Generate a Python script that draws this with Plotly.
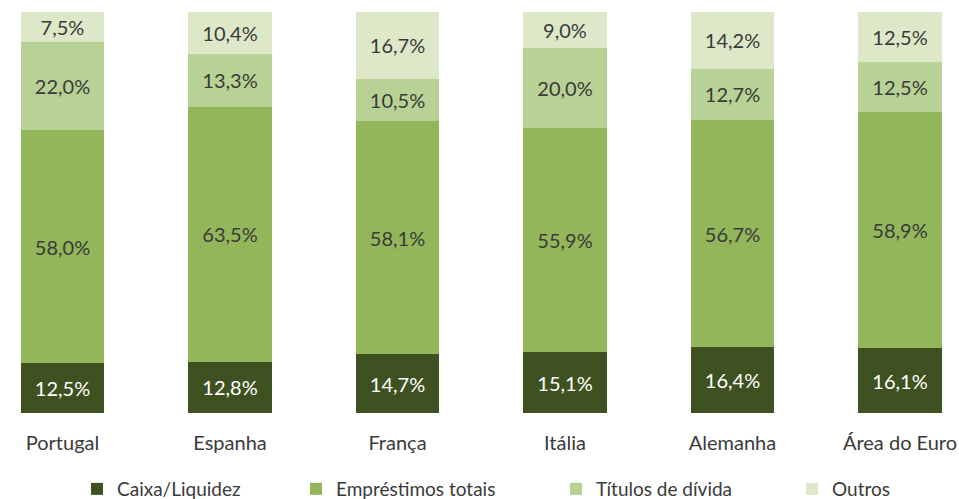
import plotly.graph_objects as go

categories = ["Portugal", "Espanha", "França", "Itália", "Alemanha", "Área do Euro"]
caixa = [12.5, 12.8, 14.7, 15.1, 16.4, 16.1]
emprestimos = [58.0, 63.5, 58.1, 55.9, 56.7, 58.9]
titulos = [22.0, 13.3, 10.5, 20.0, 12.7, 12.5]
outros = [7.5, 10.4, 16.7, 9.0, 14.2, 12.5]

series = [
    ("Caixa/Liquidez", caixa, "#3F5121", "#FFFFFF"),
    ("Empréstimos totais", emprestimos, "#93B65A", "#3A3A3A"),
    ("Títulos de dívida", titulos, "#B8D194", "#3A3A3A"),
    ("Outros", outros, "#DDE8C9", "#3A3A3A"),
]
legend_ids = ["legend", "legend2", "legend3", "legend4"]
legend_px = [77, 296, 556, 792]

def fmt(v):
    return f"{v:.1f}".replace(".", ",") + "%"

FONT = "Lato"
FS = 20
W, H = 959, 499
TOP, BOTTOM = 12, 413

fig = go.Figure()
for (name, vals, color, tcolor), lid in zip(series, legend_ids):
    fig.add_trace(go.Bar(
        name=name,
        x=list(range(len(categories))),
        y=vals,
        width=0.496,
        marker=dict(color=color, line=dict(width=0)),
        text=[fmt(v) for v in vals],
        textposition="inside",
        insidetextanchor="middle",
        textangle=0,
        textfont=dict(color=tcolor, size=FS, family=FONT),
        hoverinfo="skip",
        legend=lid,
    ))

layout_legends = {}
for lid, px in zip(legend_ids, legend_px):
    layout_legends[lid] = dict(
        orientation="h", x=px / W, xanchor="left",
        y=(BOTTOM - 489) / (BOTTOM - TOP), yanchor="middle",
        font=dict(size=19, color="#3A3A3A", family=FONT),
        itemwidth=30, bgcolor="rgba(0,0,0,0)",
    )

fig.update_layout(
    barmode="stack",
    width=W, height=H,
    margin=dict(l=0, r=0, t=TOP, b=H - BOTTOM, autoexpand=False),
    plot_bgcolor="white", paper_bgcolor="white",
    font=dict(family=FONT, size=FS, color="#3A3A3A"),
    showlegend=True,
    **layout_legends,
)
fig.update_xaxes(
    range=[-62.5 / 167.5, (W - 62.5) / 167.5],
    tickmode="array", tickvals=list(range(len(categories))), ticktext=categories,
    showgrid=False, zeroline=False, showline=False, ticks="",
    ticklabelstandoff=16, automargin=False,
    tickfont=dict(size=FS, color="#3A3A3A", family=FONT),
)
fig.update_yaxes(range=[0, 100], visible=False, showgrid=False, automargin=False)

fig.write_html("out.html", config={"displayModeBar": False},
               post_script="document.body.style.margin='0px';")
